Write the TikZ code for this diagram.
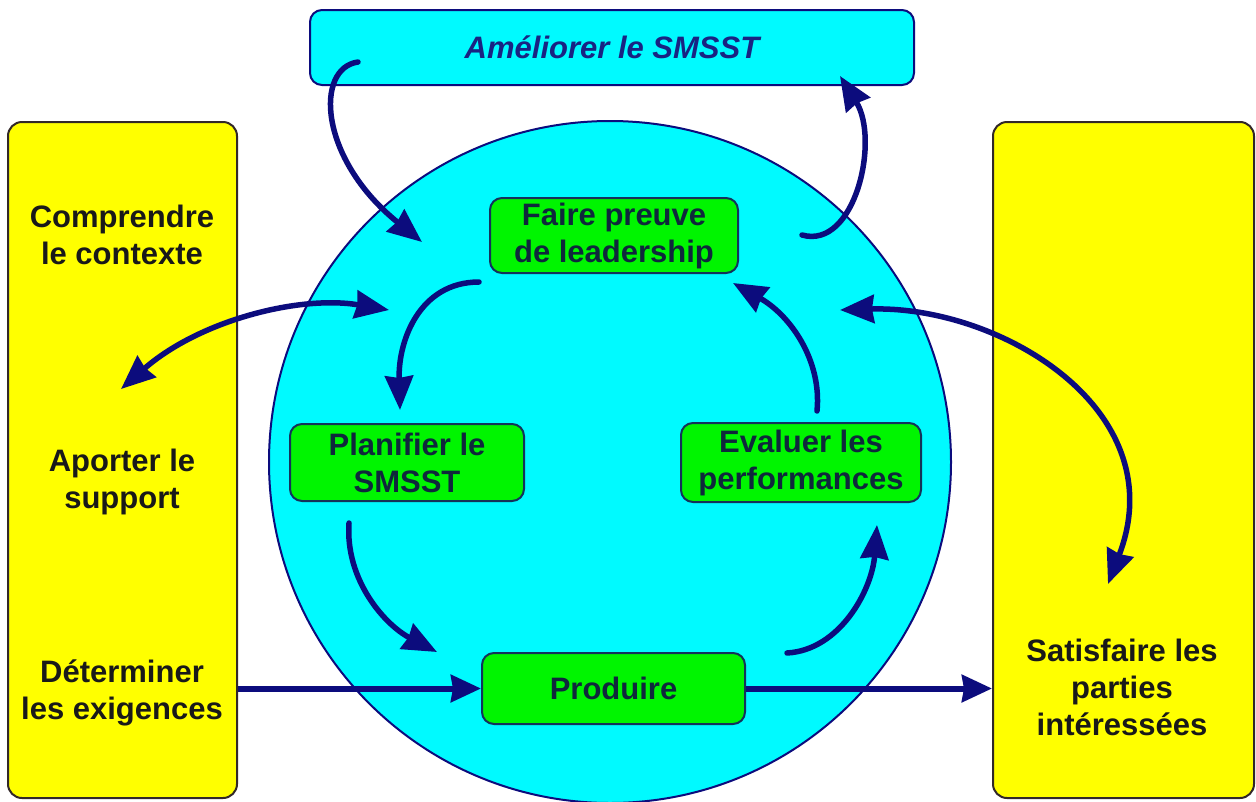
\documentclass[tikz,border=0pt]{standalone}
\usepackage{fontspec}
\setmainfont{Liberation Sans}
\usetikzlibrary{arrows.meta}
\definecolor{navy}{RGB}{12,12,125}
\definecolor{cyanf}{RGB}{0,250,255}
\definecolor{yel}{RGB}{255,255,0}
\definecolor{grn}{RGB}{0,245,0}
\definecolor{ybord}{RGB}{50,40,40}
\definecolor{gbord}{RGB}{20,50,90}
\definecolor{toptext}{RGB}{25,35,130}
\definecolor{btext}{RGB}{25,25,25}
\definecolor{gtext}{RGB}{15,40,60}
\newcommand{\diagfont}{\bfseries\fontsize{31pt}{37pt}\selectfont}
\begin{document}
\begin{tikzpicture}[x=1pt,y=-1pt,
  yelbox/.style={draw=ybord, line width=2pt, fill=yel, rounded corners=14pt, inner sep=0pt},
  greenbox/.style={draw=gbord, line width=2pt, fill=grn, rounded corners=12pt, inner sep=0pt, align=center, text=gtext, font=\diagfont},
  lbl/.style={align=center, text=btext, font=\diagfont, inner sep=0pt},
  bighead/.tip={Stealth[length=34pt,width=28pt,inset=2pt]},
  flow/.style={draw=navy, line width=5.5pt, line cap=round, -bighead},
  flowtwo/.style={draw=navy, line width=5.5pt, bighead-bighead},
  straight/.style={draw=navy, line width=6pt, -{Stealth[length=30pt,width=27pt,inset=2pt]}}
]
\useasboundingbox (0,0) rectangle (1256,801);
\fill[white] (0,0) rectangle (1256,801);

% side boxes
\node[yelbox, minimum width=229pt, minimum height=676pt] (leftbox) at (122.5,460) {};
\node[yelbox, minimum width=261pt, minimum height=676pt] (rightbox) at (1123.5,460) {};

% top box
\node[draw=navy, line width=2pt, fill=cyanf, rounded corners=12pt, inner sep=0pt,
      minimum width=604pt, minimum height=75pt, text=toptext,
      font=\diagfont\itshape] (ameliorer) at (612,47.5) {Améliorer le SMSST};

% circle
\node[circle, draw=navy, line width=2pt, fill=cyanf, minimum size=682pt, inner sep=0pt] (ring) at (610,462) {};

% green boxes
\node[greenbox, minimum width=248pt, minimum height=75pt] (faire) at (614,235.5) {Faire preuve\\de leadership};
\node[greenbox, minimum width=234pt, minimum height=77pt] (planifier) at (407,462.5) {Planifier le\\SMSST};
\node[greenbox, minimum width=240pt, minimum height=79pt] (evaluer) at (801,462.5) {Evaluer les\\performances};
\node[greenbox, minimum width=263pt, minimum height=71pt] (produire) at (613.5,688.5) {Produire};

% side texts
\node[lbl] (comprendre) at (122,235) {Comprendre\\le contexte};
\node[lbl] (aporter) at (122,482) {Aporter le\\support};
\node[lbl] (determiner) at (122,693) {Déterminer\\les exigences};
\node[lbl] (satisfaire) at (1122,687) {Satisfaire les\\parties\\intéressées};

% arrow end points
\coordinate (a1s) at (358,62);
\coordinate (a1e) at (422,242);
\coordinate (a2s) at (802,235);
\coordinate (a2e) at (840,76);
\coordinate (a3s) at (479,282);
\coordinate (a3e) at (400,410);
\coordinate (a4s) at (349,523);
\coordinate (a4e) at (437,652);
\coordinate (a5s) at (787,653);
\coordinate (a5e) at (877,525);
\coordinate (a6s) at (817,411);
\coordinate (a6e) at (733,283);
\coordinate (a7s) at (389,310);
\coordinate (a7e) at (121,389);
\coordinate (a8s) at (840,310);
\coordinate (a8e) at (1108,584);

% curved arrows
\draw[flow] (a1s) .. controls (315,68) and (318,158) .. (a1e);
\draw[flow] (a2s) .. controls (855,250) and (880,140) .. (a2e);
\draw[flow] (a3s) .. controls (420,282) and (398,340) .. (a3e);
\draw[flow] (a4s) .. controls (345,580) and (385,625) .. (a4e);
\draw[flow] (a5s) .. controls (840,650) and (872,590) .. (a5e);
\draw[flow] (a6s) .. controls (822,360) and (790,315) .. (a6e);
\draw[flowtwo] (a7s) .. controls (300,295) and (200,320) .. (a7e);
\draw[flowtwo] (a8s) .. controls (1000,305) and (1175,410) .. (a8e);

% straight arrows
\draw[straight] (leftbox.east |- produire.west) -- (produire.west);
\draw[straight] (produire.east) -- (rightbox.west |- produire.east);
\end{tikzpicture}
\end{document}
